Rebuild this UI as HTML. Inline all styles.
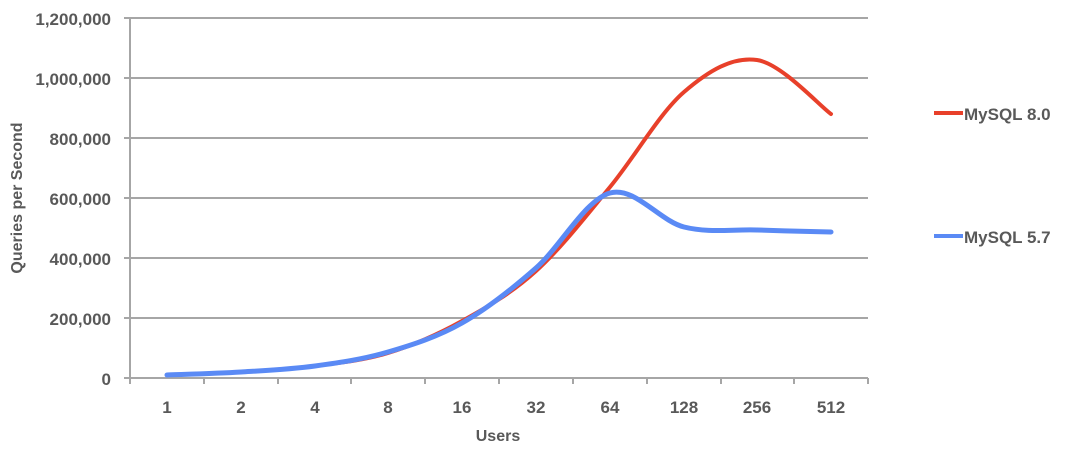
<!DOCTYPE html>
<html><head><meta charset="utf-8"><style>
html,body{margin:0;padding:0;background:#fff;width:1080px;height:452px;overflow:hidden}
text{font-family:"Liberation Sans",sans-serif;font-weight:bold;fill:#595959}
</style></head><body>
<svg id="s" width="1080" height="452" viewBox="0 0 1080 452">
<g stroke="#a6a6a6" stroke-width="2">
<line x1="124" y1="18" x2="868" y2="18"/>
<line x1="124" y1="78" x2="868" y2="78"/>
<line x1="124" y1="138" x2="868" y2="138"/>
<line x1="124" y1="198" x2="868" y2="198"/>
<line x1="124" y1="258" x2="868" y2="258"/>
<line x1="124" y1="318" x2="868" y2="318"/>
<line x1="124" y1="378" x2="868" y2="378"/>
<line x1="130" y1="18" x2="130" y2="384"/>
<line x1="204" y1="378" x2="204" y2="384"/>
<line x1="278" y1="378" x2="278" y2="384"/>
<line x1="351" y1="378" x2="351" y2="384"/>
<line x1="425" y1="378" x2="425" y2="384"/>
<line x1="499" y1="378" x2="499" y2="384"/>
<line x1="573" y1="378" x2="573" y2="384"/>
<line x1="647" y1="378" x2="647" y2="384"/>
<line x1="721" y1="378" x2="721" y2="384"/>
<line x1="794" y1="378" x2="794" y2="384"/>
<line x1="868" y1="378" x2="868" y2="384"/>
</g>
<g font-size="17" text-anchor="end">
<text x="111" y="25">1,200,000</text>
<text x="111" y="85">1,000,000</text>
<text x="111" y="145">800,000</text>
<text x="111" y="205">600,000</text>
<text x="111" y="265">400,000</text>
<text x="111" y="325">200,000</text>
<text x="111" y="385">0</text>
</g>
<g font-size="17" text-anchor="middle">
<text x="167" y="413">1</text>
<text x="241" y="413">2</text>
<text x="315" y="413">4</text>
<text x="388" y="413">8</text>
<text x="462" y="413">16</text>
<text x="536" y="413">32</text>
<text x="610" y="413">64</text>
<text x="684" y="413">128</text>
<text x="757" y="413">256</text>
<text x="831" y="413">512</text>
<text x="498" y="441" font-size="16">Users</text>
<text transform="translate(22,198) rotate(-90)" font-size="16">Queries per Second</text>
</g>
<path id="red" fill="none" stroke="#e8402a" stroke-width="4" stroke-linecap="round"/>
<path id="blue" fill="none" stroke="#5a8af5" stroke-width="5" stroke-linecap="round"/>
<line x1="934" y1="113" x2="963" y2="113" stroke="#e8402a" stroke-width="4"/>
<line x1="934" y1="236" x2="963" y2="236" stroke="#5a8af5" stroke-width="4"/>
<text x="964" y="120" font-size="17">MySQL 8.0</text>
<text x="964" y="243" font-size="17">MySQL 5.7</text>
</svg>
<script>
var xs=[167,241,315,388,462,536,610,684,757,831];
function cr(ys){var p=xs.map(function(x,i){return [x,ys[i]]});var d="M"+p[0][0]+","+p[0][1];
for(var i=0;i<p.length-1;i++){var p0=p[i-1]||p[i],p1=p[i],p2=p[i+1],p3=p[i+2]||p2;
d+=" C"+(p1[0]+(p2[0]-p0[0])/6)+","+(p1[1]+(p2[1]-p0[1])/6)+" "+(p2[0]-(p3[0]-p1[0])/6)+","+(p2[1]-(p3[1]-p1[1])/6)+" "+p2[0]+","+p2[1];}return d;}
document.getElementById("red").setAttribute("d",cr([375,372,366,353,321,271,187,92,60,114]));
document.getElementById("blue").setAttribute("d",cr([375,372,366,352,323,268,193,227,230,232]));
</script>
</body></html>
